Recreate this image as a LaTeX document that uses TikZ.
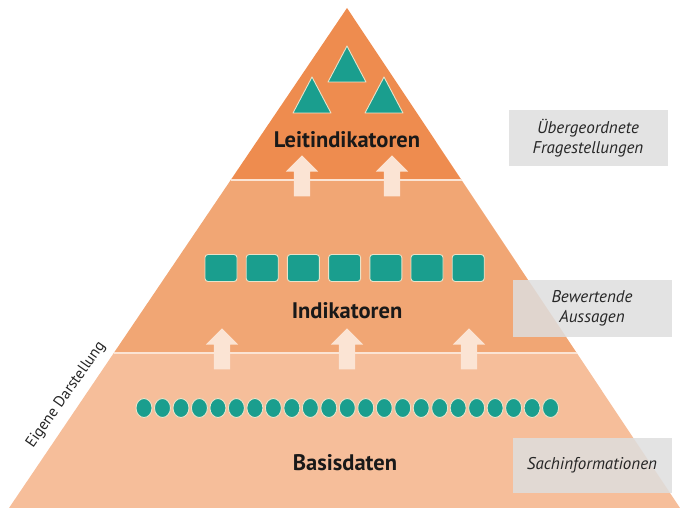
\documentclass[tikz,border=0pt]{standalone}
\usepackage{fontspec}
\setmainfont{PT Sans}
\usetikzlibrary{calc,positioning,shapes.geometric,shapes.arrows}
\definecolor{topOrange}{HTML}{EE8C4F}
\definecolor{midOrange}{HTML}{F1A674}
\definecolor{baseOrange}{HTML}{F6BE9A}
\definecolor{tealFill}{HTML}{1A9E8E}
\definecolor{tealBorder}{HTML}{E9E3C9}
\definecolor{arrowFill}{HTML}{FBE4D4}
\definecolor{noteGray}{HTML}{DEDEDE}
\tikzset{
    x=1pt, y=-1pt, % pixel-like coordinates, origin top left
    layerline/.style={draw=arrowFill, line width=1.2pt}, % white line between the levels
    tealshape/.style={fill=tealFill, draw=tealBorder, line width=0.9pt},
    box/.style={tealshape, rounded corners=3pt, minimum width=32pt, minimum height=27pt, inner sep=0pt},
    dot/.style={tealshape, ellipse, minimum width=16pt, minimum height=19pt, inner sep=0pt},
    uparrow/.style={single arrow, shape border rotate=90, fill=arrowFill, draw=none, inner sep=8pt,
        minimum width=32pt, minimum height=41pt, single arrow head extend=8pt},
    level/.style={font=\fontsize{22.5}{26}\selectfont\bfseries, text=black!90},
    note/.style={fill=noteGray, fill opacity=0.85, text opacity=1, text=black!85,
        font=\fontsize{17}{20}\selectfont\itshape, align=center,
        minimum width=159pt, minimum height=55pt, inner sep=0pt},
}

\begin{document}
\begin{tikzpicture}
  \useasboundingbox (0,0) rectangle (680,508);

  % Pyramid corners and level borders
  \coordinate (apex)  at (347,8);
  \coordinate (baseL) at (9,508);
  \coordinate (baseR) at (680,508);
  \coordinate (upL)   at ($(apex)!0.344!(baseL)$);
  \coordinate (upR)   at ($(apex)!0.344!(baseR)$);
  \coordinate (lowL)  at ($(apex)!0.69!(baseL)$);
  \coordinate (lowR)  at ($(apex)!0.69!(baseR)$);

  \fill[baseOrange] (lowL) -- (lowR) -- (baseR) -- (baseL) -- cycle;
  \fill[midOrange] (upL) -- (upR) -- (lowR) -- (lowL) -- cycle;
  \fill[topOrange] (apex) -- (upR) -- (upL) -- cycle;
  \draw[layerline] (upL) -- (upR);
  \draw[layerline] (lowL) -- (lowR);

  % Top level
  \foreach \x/\y in {347/46, 312/77, 384/77}
    \draw[tealshape, line join=round] (\x,\y) -- ++(19,36) -- ++(-38,0) -- cycle;
  \node[level] (lead) at (347,140) {Leitindikatoren};

  % Middle level
  \foreach \i in {0,...,6}
    \node[box] (sq\i) at (221+41.2*\i,268) {};
  \node[level] (ind) at (347,311) {Indikatoren};

  % Base level
  \foreach \i in {0,...,22}
    \node[dot] (dot\i) at (144+18.48*\i,408) {};
  \node[level] (base) at (345,463) {Basisdaten};

  % Arrows across the borders
  \node[uparrow] (upA) at (302,180) {};
  \node[uparrow] (upB) at (392,180) {};
  \node[uparrow] (upC) at (222,353) {};
  \node[uparrow] (upD) at (347,353) {};
  \node[uparrow] (upE) at (469,353) {};

  % Notes on the right
  \node[note] (noteTop) at (588,138) {Übergeordnete\\Fragestellungen};
  \node[note, minimum height=57pt] (noteMid) at (592,308) {Bewertende\\Aussagen};
  \node[note] (noteLow) at (592,465) {Sachinformationen};

  \node[rotate=55, font=\fontsize{15.5}{18}\selectfont, text=black!85] (source) at (66,395) {Eigene Darstellung};
\end{tikzpicture}
\end{document}
